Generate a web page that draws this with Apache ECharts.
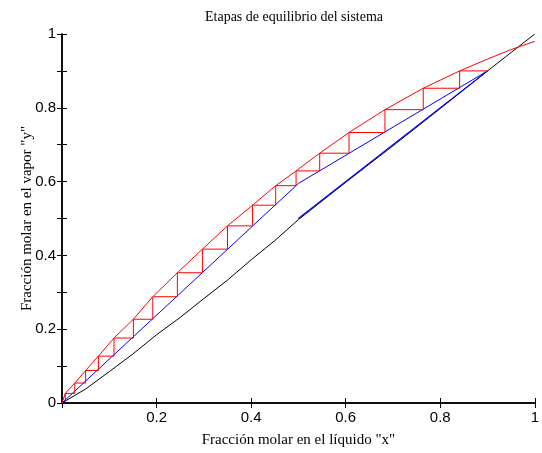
<!DOCTYPE html>
<html>
<head>
<meta charset="utf-8">
<script src="https://cdn.jsdelivr.net/npm/echarts@6/dist/echarts.min.js"></script>
<style>
  html, body { margin: 0; padding: 0; background: #fff; }
  #chart { width: 542px; height: 453px; }
</style>
</head>
<body>
<div id="chart"></div>
<script>
// curva de equilibrio (rojo)
let eqX = [0, 0.007, 0.027, 0.05, 0.077, 0.11, 0.151, 0.192, 0.244, 0.297, 0.35, 0.403, 0.452, 0.495, 0.545, 0.607, 0.683, 0.764, 0.841, 0.9, 0.95, 1];
let eqY = [0, 0.026, 0.054, 0.088, 0.127, 0.176, 0.227, 0.288, 0.353, 0.417, 0.48, 0.536, 0.589, 0.629, 0.677, 0.733, 0.795, 0.853, 0.9, 0.932, 0.958, 0.98];

// diagonal y = x (negro)
let diagX = [0, 0.05, 0.1, 0.15, 0.2, 0.25, 0.3, 0.35, 0.4, 0.45, 0.5, 0.6, 0.7, 0.8, 0.9, 0.95, 1];
let diagY = [0, 0.038, 0.085, 0.133, 0.185, 0.232, 0.283, 0.333, 0.388, 0.44, 0.497, 0.598, 0.697, 0.798, 0.9, 0.95, 1];

// rectas de operacion (azul)
let opX = [0, 0.5, 0.9];
let opY = [0, 0.595, 0.9];
let feedX = [0.5, 0.9];
let feedY = [0.5, 0.9];

// escalones: posicion de cada vertical y nivel de cada horizontal
let stepX = [0.841, 0.764, 0.683, 0.607, 0.545, 0.495, 0.452, 0.403, 0.35, 0.297, 0.244, 0.192, 0.151, 0.11, 0.077, 0.05, 0.027, 0.007];
let stepY = [0.853, 0.795, 0.733, 0.677, 0.629, 0.589, 0.536, 0.48, 0.417, 0.353, 0.288, 0.227, 0.176, 0.127, 0.088, 0.054, 0.026, 0.004];

let xTicks = [0, 0.2, 0.4, 0.6, 0.8, 1];

function pares(xs, ys) {
  return xs.map((x, i) => [x, ys[i]]);
}

// camino de la escalera desde (0.9, 0.9)
let escalera = [[0.9, 0.9]];
let yPrev = 0.9;
stepX.forEach((x, i) => {
  escalera.push([x, yPrev]);
  escalera.push([x, stepY[i]]);
  yPrev = stepY[i];
});

let chart = echarts.init(document.getElementById("chart"));

let serif = "Liberation Serif";
let sans = "Liberation Sans";

let ejeX = {
  type: "value", min: 0, max: 1, interval: 0.2,
  axisLine: { show: true, lineStyle: { color: "#000", width: 1.5 } },
  axisTick: { show: true, inside: true, length: 5, lineStyle: { color: "#000", width: 1 } },
  splitLine: { show: false }
};
let ejeY = {
  type: "value", min: 0, max: 1, interval: 0.1,
  axisLine: { show: true, lineStyle: { color: "#000", width: 1.5 } },
  axisTick: { show: true, inside: true, length: 5, lineStyle: { color: "#000", width: 1 } },
  splitLine: { show: false }
};

chart.setOption({
  animation: false,
  title: {
    text: "Etapas de equilibrio del sistema",
    left: 200, top: 5,
    textStyle: { fontFamily: serif, fontSize: 14, fontWeight: "normal", color: "#000" }
  },
  grid: { left: 62, right: 3, top: 34, bottom: 44 },
  xAxis: [
    Object.assign({}, ejeX, {
      position: "bottom",
      name: 'Fracción molar en el líquido "x"',
      nameLocation: "middle", nameGap: 30, nameMoveOverlap: false,
      nameTextStyle: { fontFamily: serif, fontSize: 15, color: "#000" },
      axisLabel: {
        fontFamily: sans, fontSize: 15, color: "#000", margin: 7,
        formatter: (v) => (v === 0 ? "" : String(xTicks.find(t => Math.abs(t - v) < 1e-6)))
      }
    }),
    Object.assign({}, ejeX, { position: "top", axisLabel: { show: false } })
  ],
  yAxis: [
    Object.assign({}, ejeY, {
      position: "left",
      name: 'Fracción molar en el vapor "y"',
      nameLocation: "middle", nameGap: 27, nameRotate: 90, nameMoveOverlap: false,
      nameTextStyle: { fontFamily: serif, fontSize: 15, color: "#000" },
      axisLabel: {
        fontFamily: sans, fontSize: 15, color: "#000", margin: 6,
        formatter: (v) => {
          let k = Math.round(v * 10);
          return k % 2 === 0 ? String(k / 10) : "";
        }
      }
    }),
    Object.assign({}, ejeY, { position: "right", axisLabel: { show: false } })
  ],
  series: [
    {
      type: "line", data: pares(diagX, diagY), symbol: "none",
      lineStyle: { color: "#000", width: 1 }
    },
    {
      type: "line", data: pares(feedX, feedY), symbol: "none",
      lineStyle: { color: "#0000ff", width: 1.2 }
    },
    {
      type: "line", data: pares(opX, opY), symbol: "none",
      lineStyle: { color: "#0000ff", width: 1 }
    },
    {
      type: "line", data: escalera, symbol: "none",
      lineStyle: { color: "#ff0000", width: 1 }
    },
    {
      type: "line", data: pares(eqX, eqY), symbol: "none",
      lineStyle: { color: "#ff0000", width: 1 }
    }
  ]
});
</script>
</body>
</html>
